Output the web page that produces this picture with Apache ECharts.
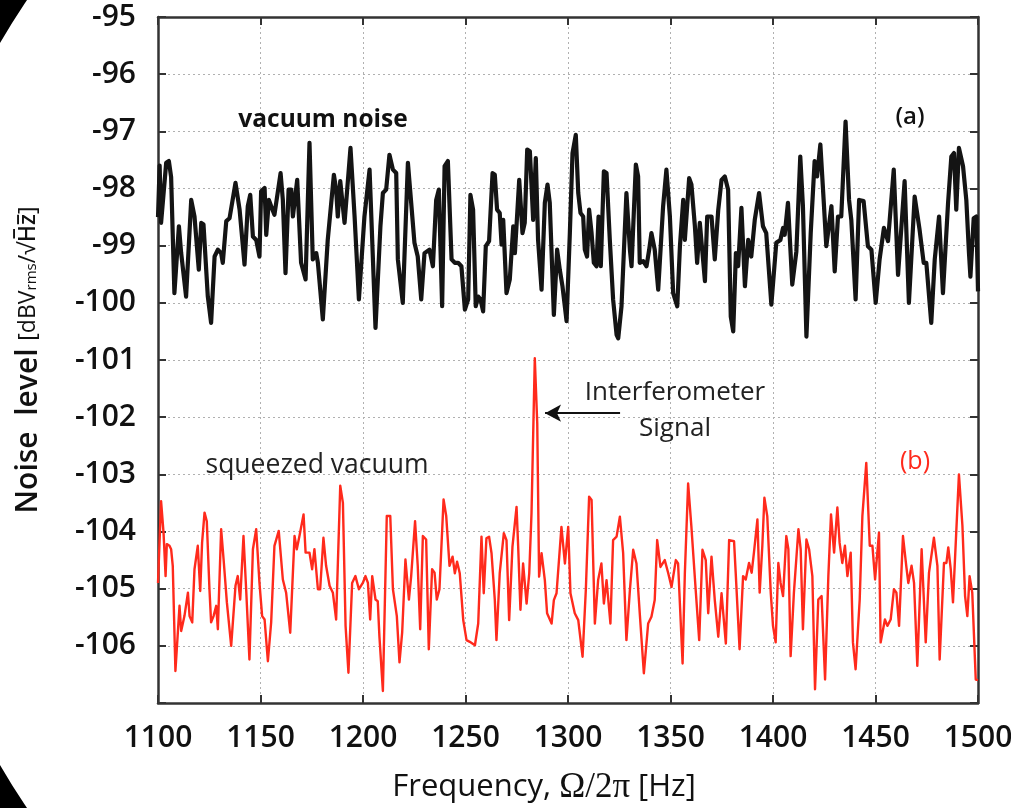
<!DOCTYPE html>
<html>
<head>
<meta charset="utf-8">
<script src="https://cdn.jsdelivr.net/npm/echarts@6/dist/echarts.min.js"></script>
<style>
  html, body { margin: 0; padding: 0; background: #fff; }
  #chart { width: 1011px; height: 808px; }
</style>
</head>
<body>
<div id="chart"></div>
<script>
// Frequency axis [Hz] and noise-level axis [dBVrms/√Hz]
const freqRange = [1100, 1500];
const freqStep = 50;
const levelRange = [-107, -95];
const levelStep = 1;

// (a) vacuum noise spectrum: [frequency Hz, level dB]
const vacuumNoise = [
  [1100,-98.5],[1100.8,-97.6],[1101.5,-98.6],[1104,-97.55],[1105.3,-97.52],[1106.4,-97.8],[1108,-99.83],
  [1110.2,-98.66],[1111.3,-99.13],[1113.7,-99.89],[1116.2,-98.2],[1117.8,-98.49],[1119.9,-99.42],[1121.1,-98.6],
  [1122.2,-98.63],[1124.3,-99.89],[1125.9,-100.35],[1127.6,-99.19],[1129.2,-99.07],[1130.8,-99.13],[1131.6,-99.3],
  [1133.3,-98.57],[1134.9,-98.52],[1137.8,-97.9],[1139.8,-98.37],[1142.2,-99.33],[1143.8,-98.31],[1145,-98.11],
  [1146.3,-98.84],[1147.9,-98.9],[1149.5,-99.19],[1150.3,-98.05],[1152,-97.99],[1152.8,-98.81],[1154.1,-98.2],
  [1155.2,-98.31],[1156.8,-98.46],[1159.8,-97.73],[1160.9,-98.2],[1162.2,-99.48],[1163.7,-98.02],[1165,-98.02],
  [1165.8,-98.49],[1167.9,-97.85],[1169.8,-99.3],[1172,-99.59],[1173.9,-97.2],[1175.5,-99.24],[1177.2,-99.13],
  [1178,-99.3],[1180.4,-100.29],[1182.8,-98.9],[1185.8,-97.76],[1186.9,-98.02],[1187.7,-98.49],[1188.9,-97.87],
  [1191,-98.6],[1193.9,-97.29],[1195.9,-98.49],[1198,-99.94],[1200.7,-98.49],[1203.2,-97.67],[1206.1,-100.44],
  [1208.5,-98.66],[1209.7,-98.08],[1211.3,-98.02],[1212.9,-97.41],[1214.6,-97.67],[1216.2,-97.73],[1217,-99.24],
  [1219.4,-100.0],[1221.9,-97.55],[1223.5,-98.25],[1225.1,-98.95],[1226.7,-99.19],[1228.4,-99.94],[1230,-99.13],
  [1232.4,-99.07],[1234.1,-99.36],[1235.7,-98.2],[1237,-98.02],[1238.6,-100.06],[1239.8,-97.61],[1241.4,-97.52],
  [1243.2,-99.24],[1244.8,-99.3],[1246.4,-99.3],[1248,-99.36],[1249.7,-100.12],[1251.3,-99.94],[1252.4,-98.11],
  [1253.7,-98.37],[1255,-100.06],[1256.2,-99.89],[1257.3,-99.94],[1258.6,-100.15],[1259.9,-99.01],[1261.5,-98.92],
  [1263.2,-97.73],[1264.3,-97.76],[1265.4,-98.37],[1266.7,-98.43],[1267.6,-98.98],[1268.4,-98.55],[1270,-99.83],
  [1271.6,-99.59],[1273.3,-98.66],[1274.1,-99.13],[1276.2,-97.85],[1277.8,-98.78],[1278.9,-98.6],[1280.1,-97.32],
  [1281.4,-97.35],[1283,-98.55],[1284.3,-97.47],[1285.4,-98.9],[1287.1,-99.77],[1288.7,-98.25],[1290,-97.93],
  [1291.1,-98.25],[1293.1,-100.21],[1294.7,-99.07],[1296,-99.42],[1297.3,-99.71],[1299.3,-100.32],[1300.9,-98.78],
  [1302.2,-97.38],[1303.8,-97.06],[1305,-98.08],[1306.1,-98.43],[1307.4,-98.49],[1308.2,-99.07],[1309.3,-99.19],
  [1310.3,-98.37],[1311.5,-98.78],[1312.6,-99.3],[1313.9,-99.36],[1314.9,-98.49],[1316,-99.36],[1317.5,-97.7],
  [1318.8,-97.73],[1320.4,-98.9],[1322,-99.94],[1323.7,-100.56],[1324.5,-100.62],[1326.1,-100.06],[1328.5,-98.08],
  [1330.2,-99.07],[1331,-99.36],[1333.1,-97.58],[1334.2,-97.79],[1335,-99.3],[1336.7,-99.27],[1338.3,-99.36],
  [1339.6,-99.07],[1340.7,-98.78],[1342.3,-99.07],[1344,-99.77],[1346.4,-98.31],[1348,-97.67],[1349.7,-98.49],
  [1351.3,-99.83],[1353.3,-100.06],[1354.6,-99.01],[1356.2,-98.2],[1357,-98.9],[1359.1,-97.82],[1360.2,-97.93],
  [1361.9,-98.66],[1363,-99.3],[1364.3,-98.6],[1365.6,-99.13],[1366.8,-99.62],[1367.9,-98.49],[1370,-98.49],
  [1371.6,-99.24],[1373.3,-98.37],[1374.9,-97.85],[1376.5,-97.79],[1378.1,-98.02],[1379.4,-100.24],[1380.6,-100.5],
  [1381.9,-99.13],[1383,-99.36],[1384.6,-98.34],[1386.3,-99.71],[1387.9,-98.9],[1389.4,-99.19],[1391.1,-98.55],
  [1393.2,-98.08],[1395.1,-98.66],[1396.7,-98.78],[1399.2,-100.03],[1401.6,-98.95],[1403.6,-98.9],[1404.9,-98.69],
  [1405.7,-98.81],[1407.3,-98.25],[1409.4,-99.68],[1411.4,-99.1],[1413.3,-97.44],[1414.6,-98.31],[1416.3,-100.59],
  [1418.4,-98.78],[1420.3,-97.52],[1421.5,-97.79],[1423.1,-97.23],[1424.7,-98.2],[1426,-99.01],[1428.5,-98.31],
  [1430.1,-99.45],[1431.7,-98.49],[1433.3,-98.49],[1435.4,-96.83],[1437.1,-98.2],[1438.2,-98.55],[1440.3,-99.94],
  [1442,-98.2],[1444.2,-98.22],[1446.3,-99.01],[1448,-99.07],[1450.1,-100.0],[1452,-99.24],[1454.1,-98.69],
  [1456.1,-98.92],[1458.9,-97.67],[1461,-99.51],[1464.2,-97.87],[1466.3,-100.0],[1469.1,-98.14],[1471.5,-98.72],
  [1473.5,-99.3],[1474.8,-99.3],[1477.2,-100.35],[1478.9,-99.24],[1481,-98.49],[1482.9,-99.83],[1485.4,-98.25],
  [1487,-97.44],[1488.3,-97.38],[1489.4,-98.37],[1490.7,-97.29],[1492.7,-97.61],[1494.3,-98.2],[1495.6,-99.13],
  [1496.3,-99.54],[1497.9,-98.52],[1499.2,-98.49],[1500,-99.8]
];

// (b) squeezed vacuum spectrum with the interferometer signal: [frequency Hz, level dB]
const squeezedVacuum = [
  [1100,-104.9],[1101.5,-103.47],[1102.7,-104.02],[1103.7,-104.78],[1104.3,-104.22],[1105.6,-104.25],[1106.4,-104.31],
  [1107.2,-104.6],[1108.5,-106.44],[1110.5,-105.3],[1111.3,-105.74],[1112.9,-105.48],[1114.6,-105.07],[1115.4,-105.48],
  [1116.7,-105.59],[1117.8,-104.66],[1119.4,-104.25],[1120.6,-105.04],[1121.5,-104.2],[1122.7,-103.67],[1123.8,-103.82],
  [1125.1,-105.01],[1125.9,-105.59],[1127.1,-105.48],[1128.4,-105.3],[1129.2,-105.71],[1130.8,-103.96],[1132,-104.49],
  [1133.6,-105.24],[1135.7,-106.0],[1137.8,-104.95],[1138.9,-104.78],[1140.1,-105.19],[1141.7,-104.08],[1143,-105.01],
  [1144.6,-106.24],[1146.3,-104.31],[1147.9,-103.96],[1149.5,-104.9],[1150.8,-105.48],[1152,-105.54],[1153.6,-106.27],
  [1155.2,-105.59],[1156.8,-104.25],[1158.9,-103.99],[1160.9,-104.84],[1162.5,-105.07],[1164.5,-105.77],[1166.6,-104.08],
  [1167.7,-104.31],[1169,-104.08],[1171,-103.7],[1172,-104.37],[1173.9,-104.37],[1175.2,-104.66],[1176.3,-104.31],
  [1178,-105.01],[1179.1,-105.01],[1180.7,-104.11],[1182,-104.6],[1183.7,-104.95],[1185.3,-105.07],[1186.9,-105.54],
  [1188.9,-103.2],[1190.2,-103.5],[1191.5,-105.65],[1192.9,-106.47],[1194.7,-104.9],[1196.3,-104.78],[1198,-105.01],
  [1199.9,-104.9],[1201.2,-104.78],[1202.4,-104.9],[1203.5,-105.54],[1204.5,-104.78],[1206.1,-105.19],[1207.2,-105.22],
  [1208,-105.83],[1209.7,-106.79],[1211.6,-103.73],[1213.3,-103.73],[1214.6,-105.01],[1216.5,-105.48],[1217.8,-106.29],
  [1219.1,-105.77],[1220.7,-104.49],[1222.4,-105.19],[1223.5,-104.78],[1225.4,-103.82],[1226.7,-104.6],[1227.9,-105.71],
  [1229.2,-104.08],[1230.8,-104.14],[1232.1,-106.06],[1233.7,-104.66],[1234.9,-104.72],[1236,-105.19],[1237.3,-105.01],
  [1239.3,-103.44],[1240.6,-103.73],[1242.2,-104.6],[1243.7,-104.44],[1244.8,-104.73],[1245.9,-104.53],[1247.2,-104.73],
  [1248.9,-105.55],[1250.5,-105.9],[1252.1,-105.93],[1254.6,-105.99],[1256.2,-105.61],[1257.8,-104.09],[1258.9,-105.08],
  [1260.2,-104.12],[1261.5,-104.09],[1262.7,-104.38],[1264.3,-105.2],[1265.1,-105.9],[1266.7,-104.73],[1268.7,-104.03],
  [1270,-104.15],[1271.3,-105.55],[1272.9,-104.27],[1274.9,-103.57],[1275.7,-104.27],[1276.8,-105.37],[1278.1,-104.56],
  [1279.8,-105.26],[1281.1,-104.73],[1282.2,-103.68],[1283.8,-100.97],[1285,-102.11],[1285.9,-104.79],[1287.1,-104.38],
  [1288.7,-104.85],[1289.8,-105.43],[1292,-105.61],[1293.1,-105.2],[1294.4,-105.08],[1296.8,-103.92],[1298.5,-104.56],
  [1300.1,-103.92],[1301.2,-105.08],[1303.3,-105.43],[1305,-105.55],[1307.1,-106.19],[1308.7,-105.02],[1310.3,-103.39],
  [1311.5,-103.45],[1313.1,-105.61],[1314.7,-104.85],[1316.3,-104.56],[1317.5,-105.26],[1318.8,-104.85],[1320.7,-105.61],
  [1322,-104.15],[1323.7,-104.09],[1325.3,-103.74],[1326.9,-104.38],[1328.5,-105.9],[1330.2,-105.02],[1331.8,-104.32],
  [1333.4,-104.56],[1335,-105.43],[1337,-106.48],[1339.1,-105.61],[1340.7,-105.49],[1342.3,-105.2],[1343.5,-104.15],
  [1345.1,-104.62],[1347.2,-104.5],[1348.9,-104.73],[1350.5,-104.97],[1352.6,-104.5],[1353.7,-104.56],[1355.9,-106.31],
  [1357,-104.73],[1358.6,-103.16],[1360.2,-103.92],[1362.4,-105.08],[1364,-105.9],[1365.6,-104.32],[1367.2,-104.5],
  [1368.4,-105.43],[1370,-104.44],[1371.6,-105.2],[1373.3,-105.84],[1374.9,-105.08],[1377,-105.96],[1378.6,-104.15],
  [1381,-104.17],[1381.8,-104.72],[1383.7,-106.06],[1385.4,-104.78],[1386.7,-104.84],[1388.3,-104.55],[1389.6,-104.72],
  [1390.7,-104.37],[1392.4,-103.79],[1393.5,-105.07],[1394.8,-104.25],[1395.8,-103.41],[1397.2,-103.73],[1398.9,-105.07],
  [1400,-105.65],[1401.3,-105.94],[1402.6,-104.55],[1403.7,-104.9],[1404.9,-105.13],[1406.5,-104.08],[1407.5,-104.31],
  [1408.6,-106.18],[1410.2,-105.07],[1412.4,-103.96],[1413.5,-104.31],[1414.6,-105.71],[1416.3,-104.14],[1417.6,-104.31],
  [1419.2,-104.78],[1420.5,-106.76],[1422.1,-105.19],[1423.7,-105.13],[1425.4,-106.59],[1427,-104.78],[1428.3,-103.7],
  [1429.8,-104.37],[1431.4,-103.58],[1432.5,-104.2],[1433.8,-104.55],[1435.1,-104.25],[1436.3,-104.78],[1437.9,-104.37],
  [1439,-105.94],[1440.3,-106.41],[1442.3,-105.19],[1443.6,-103.73],[1445.5,-102.8],[1447.2,-104.25],[1448.5,-104.25],
  [1449.8,-104.84],[1451.7,-104.02],[1452.5,-105.94],[1454.6,-105.54],[1455.8,-105.65],[1457.4,-105.54],[1459,-105.01],
  [1460.2,-105.07],[1461.5,-105.65],[1463.4,-104.08],[1465,-104.6],[1466,-104.9],[1467.6,-104.6],[1468.8,-104.9],
  [1470.4,-106.35],[1472.5,-104.31],[1474.5,-105.94],[1476.1,-104.72],[1478.5,-104.11],[1480.2,-104.6],[1481.3,-106.24],
  [1483.4,-104.55],[1484.6,-104.55],[1485.5,-104.28],[1486.7,-104.66],[1487.8,-105.24],[1490.7,-103.0],[1492.4,-103.9],
  [1493.7,-105.13],[1494.8,-105.48],[1495.9,-104.78],[1497.2,-105.07],[1498.9,-106.59],[1500,-106.6]
];

// Signal arrow: from the label towards the interferometer peak
const signalArrow = [[1325.4, -101.93], [1288.8, -101.93]];

const FONT = "'Open Sans', 'Noto Sans', sans-serif";
const INK = '#111';
const FRAME = '#333';

const chart = echarts.init(document.getElementById('chart'), null, { renderer: 'canvas' });

const frameLine = { show: true, onZero: false, lineStyle: { color: FRAME, width: 2.5 } };
const innerTick = { show: true, inside: true, length: 8, lineStyle: { color: FRAME, width: 2 } };
const dottedGrid = { show: true, lineStyle: { color: '#b0b0b0', width: 1, type: [2, 3] } };

chart.setOption({
  animation: false,
  backgroundColor: '#fff',
  grid: { left: 158, right: 33, top: 17, bottom: 105, containLabel: false, outerBoundsMode: 'none' },
  xAxis: [
    {
      type: 'value', position: 'bottom',
      min: freqRange[0], max: freqRange[1], interval: freqStep,
      axisLine: frameLine, axisTick: innerTick, splitLine: dottedGrid,
      axisLabel: { fontSize: 30, fontFamily: FONT, fontWeight: 600, color: INK, margin: 20,
        formatter: v => String(v) },
      name: '{a|Frequency, }{b|Ω/2π}{a| [Hz]}',
      nameLocation: 'middle', nameGap: 67,
      nameTextStyle: {
        padding: [0, 48, 0, 0],
        rich: {
          a: { fontSize: 31, fontFamily: FONT, fontWeight: 500, color: INK },
          b: { fontSize: 35, fontFamily: "'Liberation Serif', 'DejaVu Serif', serif", color: INK }
        }
      }
    },
    {
      type: 'value', position: 'top',
      min: freqRange[0], max: freqRange[1], interval: freqStep,
      axisLine: frameLine, axisTick: innerTick,
      axisLabel: { show: false }, splitLine: { show: false }
    }
  ],
  yAxis: [
    {
      type: 'value', position: 'left',
      min: levelRange[0], max: levelRange[1], interval: levelStep,
      axisLine: frameLine, axisTick: innerTick, splitLine: dottedGrid,
      axisLabel: {
        fontSize: 30, fontFamily: FONT, fontWeight: 600, color: INK, margin: 22,
        formatter: v => (v === levelRange[0] ? '' : String(v))
      },
      name: '{a|Noise  level }{b|[dBV}{s|rms}{b|/√H̅z̅]}',
      nameLocation: 'middle', nameRotate: 90, nameGap: 115,
      nameTextStyle: {
        rich: {
          a: { fontSize: 30, fontFamily: FONT, fontWeight: 600, color: INK },
          b: { fontSize: 23, fontFamily: FONT, fontWeight: 500, color: INK },
          s: { fontSize: 15, fontFamily: FONT, fontWeight: 500, color: INK, padding: [8, 0, 0, 0] }
        }
      }
    },
    {
      type: 'value', position: 'right',
      min: levelRange[0], max: levelRange[1], interval: levelStep,
      axisLine: frameLine, axisTick: innerTick,
      axisLabel: { show: false }, splitLine: { show: false }
    }
  ],
  series: [
    {
      name: 'vacuum noise', type: 'line', data: vacuumNoise,
      showSymbol: false, symbol: 'none', smooth: false,
      lineStyle: { color: '#141414', width: 4.2, join: 'round' },
      z: 3
    },
    {
      name: 'squeezed vacuum', type: 'line', data: squeezedVacuum,
      showSymbol: false, symbol: 'none', smooth: false,
      lineStyle: { color: '#ff2a1c', width: 2.4, join: 'round' },
      z: 4,
      markLine: {
        silent: true, animation: false,
        lineStyle: { color: INK, width: 2, type: 'solid' },
        label: { show: false },
        symbolSize: [13, 16],
        data: [[
          { coord: signalArrow[0], symbol: 'none' },
          { coord: signalArrow[1], symbol: 'arrow' }
        ]]
      }
    }
  ],
  graphic: [
    // dark rounded surround at the left corners
    { type: 'ring', silent: true, z: 100,
      shape: { cx: 623, cy: 404, r0: 720, r: 1600 }, style: { fill: '#000' } },
    { type: 'text', x: 323, y: 120, silent: true, z: 50,
      style: { text: 'vacuum noise', font: `700 24.5px ${FONT}`, fill: INK, align: 'center', verticalAlign: 'middle' } },
    { type: 'text', x: 910, y: 117, silent: true, z: 50,
      style: { text: '(a)', font: `600 24px ${FONT}`, fill: INK, align: 'center', verticalAlign: 'middle' } },
    { type: 'text', x: 317, y: 465, silent: true, z: 50,
      style: { text: 'squeezed vacuum', font: `400 26.5px ${FONT}`, fill: '#222', align: 'center', verticalAlign: 'middle' } },
    { type: 'text', x: 915, y: 462, silent: true, z: 50,
      style: { text: '(b)', font: `400 25px ${FONT}`, fill: '#ff2a1c', align: 'center', verticalAlign: 'middle' } },
    { type: 'text', x: 675, y: 393, silent: true, z: 50,
      style: { text: 'Interferometer', font: `400 26px ${FONT}`, fill: '#222', align: 'center', verticalAlign: 'middle' } },
    { type: 'text', x: 675, y: 429, silent: true, z: 50,
      style: { text: 'Signal', font: `400 26px ${FONT}`, fill: '#222', align: 'center', verticalAlign: 'middle' } }
  ]
});
</script>
</body>
</html>
